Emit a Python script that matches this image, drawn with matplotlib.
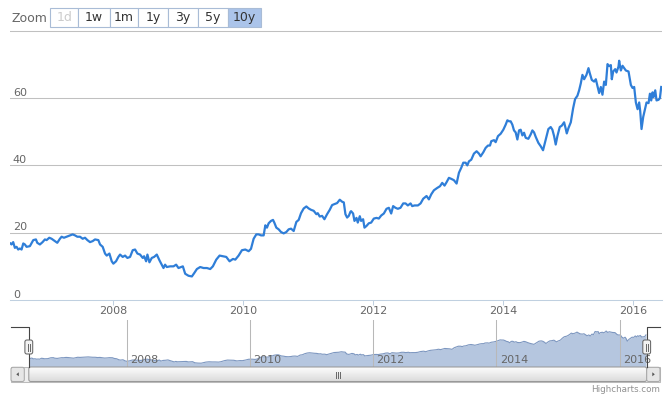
import matplotlib
matplotlib.use("Agg")
import matplotlib.pyplot as plt
from matplotlib.patches import FancyBboxPatch, Rectangle, Polygon
import numpy as np

# Values: decimal year, price
dates = [2006.418, 2006.434, 2006.459, 2006.485, 2006.511, 2006.536, 2006.562, 2006.588, 2006.614, 2006.639,
         2006.665, 2006.716, 2006.768, 2006.809, 2006.829, 2006.870, 2006.911, 2006.947, 2006.973, 2007.014,
         2007.050, 2007.101, 2007.137, 2007.178, 2007.204, 2007.240, 2007.281, 2007.333, 2007.374, 2007.410,
         2007.446, 2007.487, 2007.528, 2007.564, 2007.600, 2007.641, 2007.682, 2007.718, 2007.769, 2007.795,
         2007.836, 2007.872, 2007.898, 2007.939, 2007.975, 2008.000, 2008.041, 2008.077, 2008.103, 2008.144,
         2008.180, 2008.216, 2008.257, 2008.298, 2008.334, 2008.370, 2008.411, 2008.452, 2008.473, 2008.504,
         2008.524, 2008.555, 2008.591, 2008.627, 2008.668, 2008.709, 2008.745, 2008.771, 2008.796, 2008.822,
         2008.873, 2008.925, 2008.966, 2009.002,
         2009.069, 2009.105, 2009.156, 2009.208, 2009.244, 2009.285, 2009.336, 2009.388, 2009.439, 2009.490,
         2009.531, 2009.583, 2009.634, 2009.685, 2009.737, 2009.788, 2009.840, 2009.876, 2009.927, 2009.978,
         2010.030, 2010.081, 2010.117, 2010.158, 2010.199, 2010.235, 2010.271, 2010.312, 2010.338, 2010.363,
         2010.389, 2010.425, 2010.456, 2010.476, 2010.507, 2010.543, 2010.579, 2010.620, 2010.661, 2010.697,
         2010.733, 2010.774, 2010.815, 2010.851, 2010.887, 2010.928, 2010.969, 2011.005, 2011.041, 2011.082,
         2011.123, 2011.144, 2011.175, 2011.211, 2011.247, 2011.288, 2011.329, 2011.365, 2011.401, 2011.442,
         2011.483, 2011.519, 2011.545, 2011.570, 2011.596, 2011.622, 2011.647,
         2011.657, 2011.688, 2011.709, 2011.740, 2011.760, 2011.791, 2011.811, 2011.842, 2011.863, 2011.894,
         2011.930, 2011.966, 2012.007, 2012.048, 2012.084, 2012.120, 2012.161, 2012.202, 2012.238, 2012.274,
         2012.304, 2012.340, 2012.376, 2012.417, 2012.459, 2012.495, 2012.530, 2012.572, 2012.597, 2012.633,
         2012.685, 2012.726, 2012.767, 2012.818, 2012.854, 2012.890, 2012.931, 2012.982, 2013.024, 2013.059,
         2013.095, 2013.126, 2013.162, 2013.198, 2013.239, 2013.280, 2013.316, 2013.352, 2013.383, 2013.419,
         2013.445, 2013.470, 2013.506, 2013.547, 2013.588, 2013.624, 2013.650, 2013.691, 2013.727, 2013.763,
         2013.794, 2013.814, 2013.856, 2013.881, 2013.917, 2013.958, 2013.999, 2014.035, 2014.061, 2014.087,
         2014.112,
         2014.138, 2014.163, 2014.189, 2014.215, 2014.241, 2014.266, 2014.292, 2014.318, 2014.343, 2014.384,
         2014.420, 2014.446, 2014.472, 2014.497, 2014.538, 2014.574, 2014.610, 2014.651, 2014.692, 2014.728,
         2014.754, 2014.780, 2014.805, 2014.831, 2014.867, 2014.898, 2014.934, 2014.960, 2014.975, 2015.001,
         2015.037, 2015.073, 2015.103, 2015.139, 2015.165, 2015.191, 2015.216, 2015.242, 2015.278, 2015.309,
         2015.329, 2015.360, 2015.396, 2015.422, 2015.447, 2015.473, 2015.499, 2015.524, 2015.550, 2015.576,
         2015.602, 2015.627, 2015.653, 2015.668, 2015.689, 2015.720, 2015.740, 2015.771, 2015.781, 2015.807,
         2015.833, 2015.858, 2015.884, 2015.925, 2015.961, 2015.987, 2016.012, 2016.038, 2016.064, 2016.089,
         2016.105, 2016.125, 2016.151, 2016.182, 2016.202, 2016.233, 2016.254, 2016.274, 2016.295, 2016.310,
         2016.336, 2016.356, 2016.387, 2016.408, 2016.428]
prices = [16.8, 16.5, 17.2, 15.5, 15.8, 15.0, 15.3, 15.0, 16.8, 16.5,
          15.8, 16.0, 17.8, 18.0, 17.0, 16.5, 17.2, 18.0, 17.8, 18.5,
          18.2, 17.5, 17.0, 18.2, 18.8, 18.5, 18.8, 19.2, 19.5, 19.2,
          18.8, 18.8, 18.2, 18.5, 17.8, 17.2, 17.5, 18.0, 17.8, 16.5,
          15.8, 13.8, 13.2, 13.8, 11.5, 10.8, 11.5, 12.8, 13.5, 12.8,
          13.2, 12.5, 12.8, 14.8, 15.0, 13.8, 13.5, 12.5, 13.0, 11.5,
          13.5, 11.2, 12.5, 12.8, 13.5, 11.8, 10.5, 9.5, 10.5, 9.8,
          10.0, 10.0, 10.5, 9.5,
          10.0, 7.8, 7.2, 7.0, 8.0, 9.2, 9.8, 9.5, 9.5, 9.2,
          10.0, 12.0, 13.2, 13.0, 12.8, 11.5, 12.2, 12.0, 13.2, 14.8,
          15.0, 14.5, 15.2, 18.2, 19.5, 19.5, 19.2, 19.2, 22.2, 21.5,
          22.8, 23.5, 23.8, 23.0, 21.5, 21.0, 20.2, 19.8, 20.2, 21.0,
          21.2, 20.5, 23.2, 23.8, 25.8, 27.2, 27.8, 27.2, 26.8, 26.5,
          25.5, 25.8, 24.8, 25.0, 24.0, 25.5, 26.8, 28.2, 28.5, 28.8,
          29.8, 29.2, 29.0, 25.5, 24.5, 25.0, 26.2,
          26.4, 25.7, 23.5, 24.4, 23.0, 24.9, 23.5, 24.0, 21.5, 22.0,
          22.8, 23.0, 24.2, 24.4, 24.2, 25.1, 25.7, 27.1, 27.4, 25.7,
          27.9, 27.4, 27.1, 27.4, 28.7, 28.7, 28.1, 28.7, 27.9, 28.1,
          28.1, 28.7, 30.1, 30.9, 29.9, 31.4, 32.6, 33.3, 33.8, 34.8,
          34.0, 35.0, 36.3, 36.0, 35.6, 34.6, 37.8, 39.3, 40.8, 40.8,
          40.0, 41.2, 41.7, 43.5, 44.2, 43.5, 42.7, 43.9, 45.2, 45.9,
          45.9, 47.2, 47.5, 46.9, 48.7, 49.4, 50.6, 52.1, 53.4, 53.1,
          53.1,
          52.1, 50.4, 49.8, 47.7, 50.4, 50.6, 48.9, 49.7, 48.2, 47.9,
          49.2, 50.4, 49.8, 48.5, 46.7, 45.7, 44.5, 47.7, 50.8, 51.4,
          50.6, 48.7, 46.2, 48.7, 51.4, 51.8, 52.8, 50.8, 49.5, 51.1,
          52.8, 57.0, 59.7, 60.7, 62.3, 64.4, 66.9, 65.6, 66.9, 68.9,
          67.4, 65.4, 64.9, 65.6, 63.6, 61.5, 63.3, 61.0, 64.9, 63.9,
          70.1, 69.5, 69.8, 65.6, 67.9, 68.6, 67.6, 69.4, 71.1, 68.2,
          69.6, 68.9, 68.2, 67.9, 63.9, 63.0, 63.3, 58.7, 56.7, 58.7,
          56.1, 50.8, 54.4, 57.0, 58.7, 58.5, 61.3, 59.3, 61.7, 60.3,
          62.3, 59.3, 59.5, 60.0, 63.3]

year_ticks = [2008, 2010, 2012, 2014, 2016]
price_labels = [0, 20, 40, 60]
grid_levels = [20, 40, 60, 80]
zoom_labels = ["1d", "1w", "1m", "1y", "3y", "5y", "10y"]
selected = "10y"
disabled = ["1d"]

W, H = 665, 395
fig = plt.figure(figsize=(W / 100, H / 100), dpi=100)


def box(l, t, r, b):
    # pixel box (from top-left) -> figure fraction
    return [l / W, 1 - b / H, (r - l) / W, (b - t) / H]


x0, x1 = 2006.41, 2016.44
gray = "#666666"

# main chart
ax = fig.add_axes(box(10, 29.1, 662, 300))
ax.plot(dates, prices, color="#2F7ED8", lw=1.6, solid_joinstyle="round")
ax.set_xlim(x0, x1)
ax.set_ylim(0, 80.5)
ax.set_yticks(grid_levels)
ax.yaxis.grid(True, color="#C0C0C0", lw=0.75)
ax.tick_params(axis="y", left=False, labelleft=False)
ax.set_xticks(year_ticks)
ax.set_xticklabels([str(y) for y in year_ticks])
ax.tick_params(axis="x", length=3.6, width=0.75, color="#C0D0E0",
               labelcolor=gray, labelsize=8, pad=0.5)
for s in ["top", "left", "right"]:
    ax.spines[s].set_visible(False)
ax.spines["bottom"].set_color("#C0D0E0")
ax.spines["bottom"].set_linewidth(0.75)
for v in price_labels:
    ax.annotate(str(v), xy=(0, v), xycoords=("axes fraction", "data"),
                xytext=(2, 1.7), textcoords="offset points",
                fontsize=8, color=gray, ha="left", va="baseline")

# navigator
nav = fig.add_axes(box(28.8, 320, 646.7, 366.7))
nav.fill_between(dates, prices, 0, color="#B5C6DF", lw=0)
nav.plot(dates, prices, color="#7D97C0", lw=0.8)
nav.set_xlim(x0, x1)
nav.set_ylim(0, 93)
nav.set_xticks(year_ticks)
nav.set_axisbelow(False)
nav.xaxis.grid(True, color="#B8B8B8", lw=0.75)
nav.tick_params(bottom=False, left=False, labelbottom=False, labelleft=False)
for s in nav.spines.values():
    s.set_visible(False)
for y in year_ticks:
    nav.annotate(str(y), xy=(y, 0), xycoords=("data", "axes fraction"),
                 xytext=(2.4, 2.7), textcoords="offset points",
                 fontsize=8, color=gray, ha="left", va="baseline")

# overlay for the widgets (pixel coords)
ui = fig.add_axes([0, 0, 1, 1], facecolor="none")
ui.set_xlim(0, W)
ui.set_ylim(H, 0)
ui.axis("off")

# range selector
ui.text(11, 21.5, "Zoom", fontsize=9, color=gray, va="baseline")
edges = [50, 78.3, 110, 138, 168, 198, 228, 260.7]
for i, lab in enumerate(zoom_labels):
    l, r = edges[i], edges[i + 1]
    fc = "#ABC4EA" if lab == selected else "white"
    ui.add_patch(Rectangle((l, 8.3), r - l, 18.4, fc=fc, ec="#A9BCD6", lw=0.8))
    tc = "#CCCCCC" if lab in disabled else "#333333"
    ui.text((l + r) / 2, 17.8, lab, fontsize=9, color=tc, ha="center", va="center")

# scrollbar
ui.add_patch(Rectangle((11, 367), 649, 14.5, fc="#EEEEEE", ec="#BBBBBB", lw=0.75))
thumb = FancyBboxPatch((28.8, 367), 617.9, 14.5, boxstyle="round,pad=0,rounding_size=2",
                       fc="none", ec="#999999", lw=0.75, zorder=3)
ui.add_patch(thumb)
grad = np.linspace(1.0, 0.86, 40)[:, None] * np.ones((1, 2))
im = ui.imshow(grad, cmap="gray", vmin=0, vmax=1, extent=(28.8, 646.7, 381.5, 367),
               aspect="auto", origin="upper", zorder=2)
im.set_clip_path(thumb)
for gx in [335.5, 337.5, 339.5]:
    ui.plot([gx, gx], [371.5, 377.5], color=gray, lw=0.7, zorder=4)
for bx, tri in [(11, [(16.3, 374.3), (18.8, 372.3), (18.8, 376.3)]),
                (646.7, [(654.8, 374.3), (652.3, 372.3), (652.3, 376.3)])]:
    ui.add_patch(FancyBboxPatch((bx, 367.3), 13.3, 14.2, boxstyle="round,pad=0,rounding_size=2",
                                fc="#E6E6E6", ec="#AAAAAA", lw=0.75, zorder=3))
    ui.add_patch(Polygon(tri, closed=True, fc="#555555", ec="none", zorder=4))

# navigator outline and handles
ui.plot([11, 28.8, 28.8], [327.3, 327.3, 366.7], color="#444444", lw=0.8, zorder=3)
ui.plot([646.7, 646.7, 660], [366.7, 327.3, 327.3], color="#444444", lw=0.8, zorder=3)
for hx in [28.8, 646.7]:
    ui.add_patch(FancyBboxPatch((hx - 3.9, 340), 7.8, 14, boxstyle="round,pad=0,rounding_size=2",
                                fc="#F2F2F2", ec=gray, lw=0.75, zorder=5))
    for dx in [-1, 1]:
        ui.plot([hx + dx, hx + dx], [343.5, 350.5], color=gray, lw=0.7, zorder=6)

ui.text(660, 392, "Highcharts.com", fontsize=6.3, color="#909090", ha="right", va="baseline")
ui.set_xlim(0, W)
ui.set_ylim(H, 0)

fig.savefig("out.png", dpi=100)
